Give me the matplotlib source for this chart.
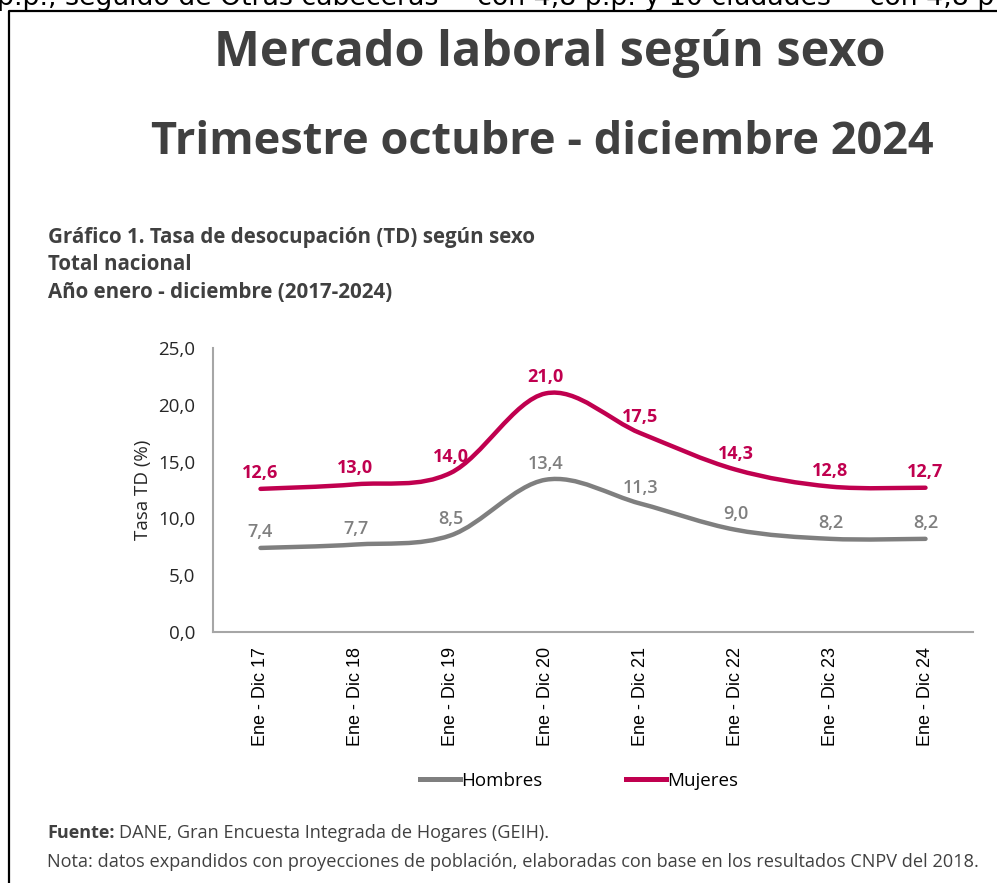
import numpy as np
import matplotlib.pyplot as plt
from matplotlib.path import Path
from matplotlib.patches import PathPatch
from matplotlib.lines import Line2D

periodos = ['Ene - Dic 17', 'Ene - Dic 18', 'Ene - Dic 19', 'Ene - Dic 20',
            'Ene - Dic 21', 'Ene - Dic 22', 'Ene - Dic 23', 'Ene - Dic 24']
hombres = [7.4, 7.7, 8.5, 13.4, 11.3, 9.0, 8.2, 8.2]
mujeres = [12.6, 13.0, 14.0, 21.0, 17.5, 14.3, 12.8, 12.7]
y_ticks = [0, 5, 10, 15, 20, 25]

GRIS = '#7f7f7f'
ROJO = '#c0004f'
TEXTO = '#404040'


def curva_suave(ax, x, y, color, lw):
    # smoothed line like excel, catmull-rom -> cubic bezier in data coords
    x = np.asarray(x, float)
    y = np.asarray(y, float)
    verts = [(x[0], y[0])]
    codes = [Path.MOVETO]
    n = len(x)
    for i in range(n - 1):
        p0 = (x[i - 1], y[i - 1]) if i > 0 else (x[i], y[i])
        p1 = (x[i], y[i])
        p2 = (x[i + 1], y[i + 1])
        p3 = (x[i + 2], y[i + 2]) if i + 2 < n else (x[i + 1], y[i + 1])
        c1 = (p1[0] + (p2[0] - p0[0]) / 6, p1[1] + (p2[1] - p0[1]) / 6)
        c2 = (p2[0] - (p3[0] - p1[0]) / 6, p2[1] - (p3[1] - p1[1]) / 6)
        verts += [c1, c2, p2]
        codes += [Path.CURVE4] * 3
    patch = PathPatch(Path(verts, codes), facecolor='none', edgecolor=color,
                      lw=lw, capstyle='round', joinstyle='round')
    ax.add_patch(patch)


fig = plt.figure(figsize=(9.97, 8.83), dpi=100)

# clipped line of the page above
fig.text(-0.003, 1 - 5 / 883, 'p.p., seguido de Otras cabeceras  – con 4,8 p.p. y 10 ciudades  – con 4,8 p',
         family='DejaVu Sans', fontsize=19.3, color='black', va='baseline', ha='left')
fig.add_artist(Line2D([9 / 997, 9 / 997, 1.0], [0.0, 1 - 11 / 883, 1 - 11 / 883],
                      transform=fig.transFigure, color='black', lw=1.6))

fig.text(550 / 997, 1 - 54 / 883, 'Mercado laboral según sexo', family='Open Sans',
         fontweight='bold', fontsize=35, color=TEXTO, ha='center', va='center')
fig.text(542 / 997, 1 - 143 / 883, 'Trimestre octubre - diciembre 2024', family='Open Sans',
         fontweight='bold', fontsize=32.5, color=TEXTO, ha='center', va='center')

for i, s in enumerate(['Gráfico 1. Tasa de desocupación (TD) según sexo',
                       'Total nacional', 'Año enero - diciembre (2017-2024)']):
    fig.text(48 / 997, 1 - (237 + 27.5 * i) / 883, s, family='Open Sans', fontweight='bold',
             fontsize=14.8, color=TEXTO, ha='left', va='center')

ax = fig.add_axes([213 / 997, 1 - 632 / 883, 760 / 997, 284 / 883])
x = np.arange(len(periodos))
curva_suave(ax, x, hombres, GRIS, 3.2)
curva_suave(ax, x, mujeres, ROJO, 3.2)
ax.plot([], [], color=GRIS, lw=3.6, label='Hombres')
ax.plot([], [], color=ROJO, lw=3.6, label='Mujeres')

for xi, v in zip(x, hombres):
    ax.annotate(f'{v:.1f}'.replace('.', ','), (xi, v), xytext=(0, 5), textcoords='offset points',
                ha='center', va='bottom', fontsize=13, color=GRIS, family='Open Sans',
                fontweight='semibold')
for xi, v in zip(x, mujeres):
    ax.annotate(f'{v:.1f}'.replace('.', ','), (xi, v), xytext=(0, 5), textcoords='offset points',
                ha='center', va='bottom', fontsize=13, color=ROJO, family='Open Sans',
                fontweight='bold')

ax.set_xlim(-0.5, len(periodos) - 0.5)
ax.set_ylim(0, 25)
ax.set_yticks(y_ticks)
ax.set_yticklabels([f'{t:.1f}'.replace('.', ',') for t in y_ticks], family='Open Sans',
                   fontsize=13.5, color='#262626')
ax.set_xticks(x)
ax.set_xticklabels(periodos, rotation=90, family='Liberation Sans', fontsize=13, color='black')
ax.tick_params(axis='x', length=0, pad=11)
ax.tick_params(axis='y', length=0, pad=13)
ax.set_ylabel('Tasa TD (%)', family='Open Sans', fontsize=13.5, color='#262626', labelpad=4)
for s in ['top', 'right']:
    ax.spines[s].set_visible(False)
for s in ['left', 'bottom']:
    ax.spines[s].set_color('#a6a6a6')
    ax.spines[s].set_linewidth(1.5)

leg = fig.legend(loc='center', bbox_to_anchor=(579 / 997, 1 - 781 / 883), ncol=2, frameon=False,
                 handlelength=2.1, handletextpad=0.05, columnspacing=4.5,
                 prop={'family': 'Open Sans', 'size': 13.5})
for t in leg.get_texts():
    t.set_color('black')

t_fuente = fig.text(47 / 997, 1 - 833 / 883, 'Fuente:', family='Open Sans', fontweight='bold',
                    fontsize=13, color=TEXTO, ha='left', va='center')
ax.annotate('DANE, Gran Encuesta Integrada de Hogares (GEIH).', xy=(1, 0.5), xycoords=t_fuente,
            xytext=(3, 0), textcoords='offset points', family='Open Sans', fontsize=13.1,
            color=TEXTO, ha='left', va='center')
fig.text(47 / 997, 1 - 862 / 883,
         'Nota: datos expandidos con proyecciones de población, elaboradas con base en los resultados CNPV del 2018.',
         family='Open Sans', fontsize=13.1, color=TEXTO, ha='left', va='center')

fig.savefig('out.png', dpi=100)
